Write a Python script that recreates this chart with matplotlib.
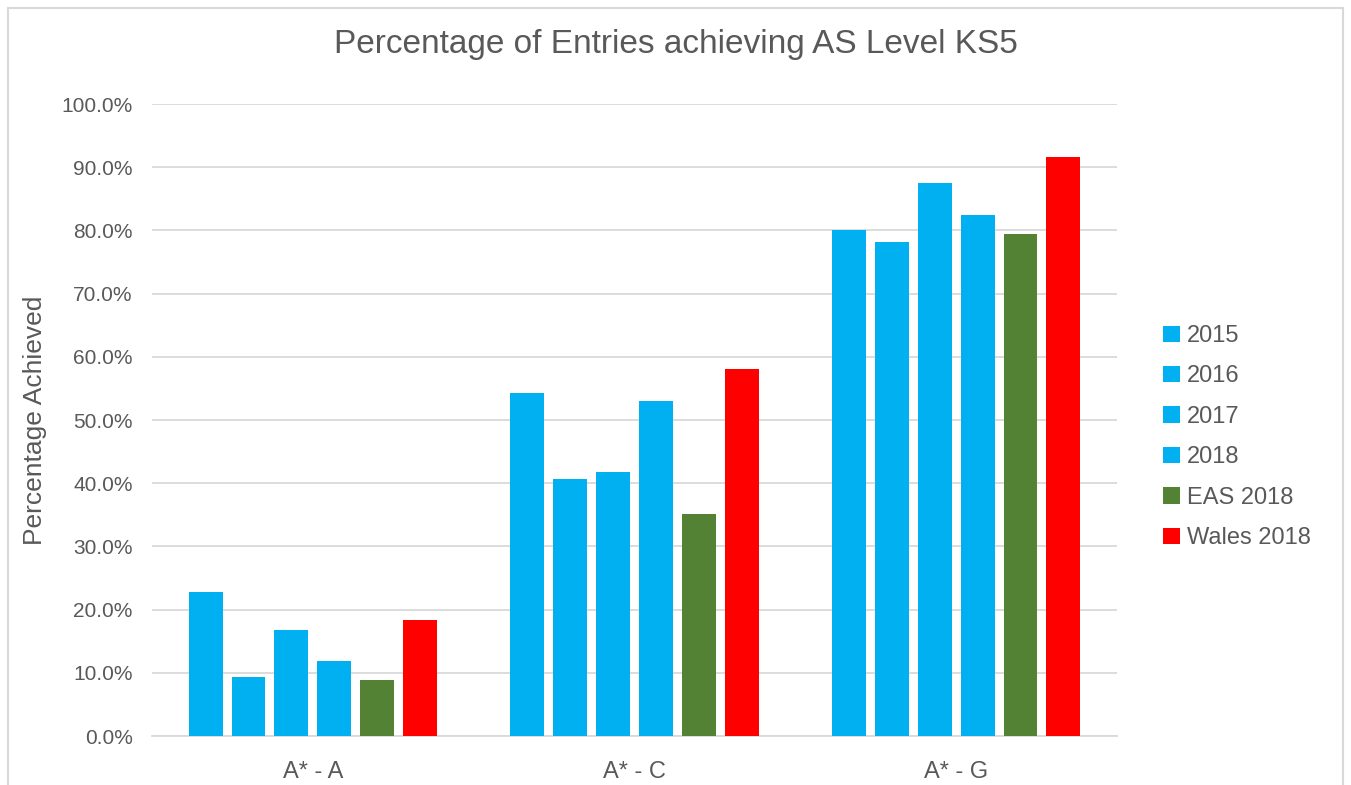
import matplotlib.pyplot as plt
import matplotlib.patches as mpatches
import numpy as np
from matplotlib.ticker import PercentFormatter

categories = ["A* - A", "A* - C", "A* - G"]
series = ["2015", "2016", "2017", "2018", "EAS 2018", "Wales 2018"]
values = {
    "2015": [22.8, 54.2, 80.0],
    "2016": [9.4, 40.6, 78.1],
    "2017": [16.7, 41.7, 87.5],
    "2018": [11.8, 53.0, 82.4],
    "EAS 2018": [8.8, 35.2, 79.4],
    "Wales 2018": [18.3, 58.0, 91.6],
}
colors = ["#00B0F0", "#00B0F0", "#00B0F0", "#00B0F0", "#548235", "#FF0000"]

plt.rcParams["font.family"] = ["Liberation Sans", "DejaVu Sans"]
text_color = "#595959"

fig = plt.figure(figsize=(13.51, 7.85), dpi=100)
ax = fig.add_axes([0.1125, 0.0624, 0.7143, 0.8051])

x = np.arange(len(categories))
slot = 0.8 / len(series)
width = slot * 0.79
for i, name in enumerate(series):
    offs = (i - (len(series) - 1) / 2) * slot
    ax.bar(x + offs, values[name], width, color=colors[i], label=name, zorder=3)

ax.set_xlim(-0.5, len(categories) - 0.5)
ax.set_ylim(0, 100)
ax.set_yticks(np.arange(0, 101, 10))
ax.yaxis.set_major_formatter(PercentFormatter(decimals=1))
ax.set_xticks(x)
ax.set_xticklabels(categories)
ax.tick_params(axis="both", length=0, colors=text_color)
ax.tick_params(axis="y", pad=14, labelsize=15)
ax.tick_params(axis="x", pad=18, labelsize=17)
ax.grid(axis="y", color="#D9D9D9", linewidth=1.3, zorder=0)
for s in ["top", "right", "left"]:
    ax.spines[s].set_visible(False)
ax.spines["bottom"].set_color("#D9D9D9")
ax.spines["bottom"].set_linewidth(1.3)

ax.set_ylabel("Percentage Achieved", fontsize=19, color=text_color, labelpad=10)
fig.suptitle("Percentage of Entries achieving AS Level KS5", fontsize=24,
             color=text_color, y=0.963)

leg = ax.legend(loc="center left", bbox_to_anchor=(1.026, 0.473), frameon=False,
                fontsize=17, handlelength=0.7, handleheight=0.7,
                handletextpad=0.3, labelspacing=0.78, labelcolor=text_color)

border = mpatches.Rectangle((0.006, -0.05), 0.988, 1.04, transform=fig.transFigure,
                            fill=False, edgecolor="#D9D9D9", linewidth=1.5)
fig.patches.append(border)

fig.savefig("out.png", dpi=100)
